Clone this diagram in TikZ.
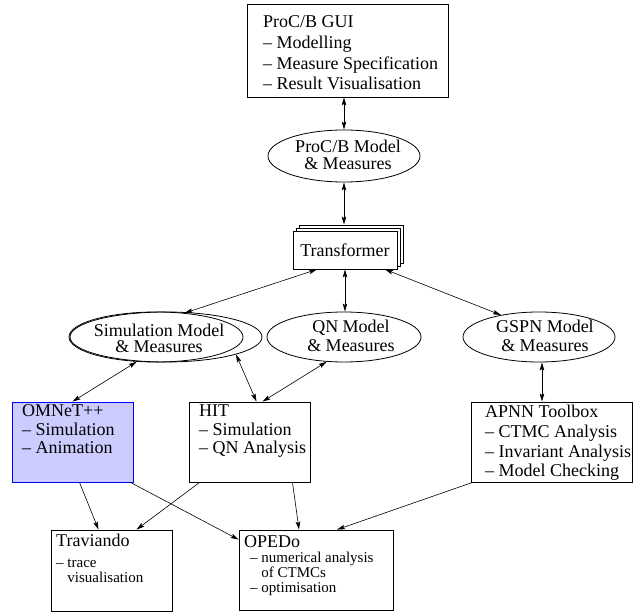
\documentclass[tikz,border=0pt]{standalone}
\usepackage{fontspec}
\setmainfont{Liberation Serif}
\usetikzlibrary{arrows.meta,shapes.geometric}
\definecolor{omfill}{RGB}{204,204,255}
\definecolor{omdraw}{RGB}{0,0,255}
\begin{document}
\begin{tikzpicture}[x=1pt,y=-1pt,
  box/.style={draw, line width=0.8pt, rectangle, inner sep=0pt},
  ell/.style={draw, line width=0.8pt, ellipse, inner sep=0pt, minimum height=50pt},
  txt/.style={anchor=base west, inner sep=0pt, align=left},
  ctxt/.style={anchor=base, inner sep=0pt, align=center},
  bigf/.style={font=\fontsize{18}{#1}\selectfont},
  smallf/.style={font=\fontsize{15}{15}\selectfont},
  tip/.tip={Stealth[length=8pt,width=4.5pt,inset=1.5pt]},
  dbl/.style={line width=0.6pt, {tip}-{tip}},
  one/.style={line width=0.6pt, -{tip}}
]
\useasboundingbox (0,0) rectangle (633,612);

% GUI (text anchors are at the baseline of the last line)
\node[box, minimum width=201pt, minimum height=93pt] (gui) at (347.5,50.5) {};
\node[txt, bigf=20.7] (guit) at (263,90) {ProC/B GUI\\– Modelling\\– Measure Specification\\– Result Visualisation};

% ProC/B model
\node[ell, minimum width=152pt, minimum height=52pt] (procb) at (344,156) {};
\node[ctxt, bigf=17] (procbt) at (348,170) {ProC/B Model\\\& Measures};

% Transformer stack
\node[box, fill=white, minimum width=104pt, minimum height=38pt] (transb2) at (351,244) {};
\node[box, fill=white, minimum width=104pt, minimum height=38pt] (transb1) at (348,247) {};
\node[box, fill=white, minimum width=104pt, minimum height=38pt, bigf=20] (trans) at (345,250) {Transformer};

% Second level ellipses
\node[ell, minimum width=192pt] (sim2) at (166,337) {};
\node[ell, minimum width=174pt] (sim) at (156,337) {};
\node[ctxt, bigf=16.5] (simt) at (159,353) {Simulation Model\\\& Measures};

\node[ell, minimum width=154pt] (qn) at (344,337) {};
\node[ctxt, bigf=18.5] (qnt) at (351,351.5) {QN Model\\\& Measures};

\node[ell, minimum width=152pt] (gspn) at (539,337) {};
\node[ctxt, bigf=18.5] (gspnt) at (545,351.5) {GSPN Model\\\& Measures};

% Tool boxes
\node[box, draw=omdraw, fill=omfill, minimum width=121pt, minimum height=80pt] (omnet) at (72.5,442) {};
\node[txt, bigf=18.3] (omnett) at (22,453.6) {OMNeT++\\– Simulation\\– Animation};

\node[box, minimum width=121pt, minimum height=80pt] (hit) at (249.5,442) {};
\node[txt, bigf=18.3] (hitt) at (199,453.6) {HIT\\– Simulation\\– QN Analysis};

\node[box, minimum width=161pt, minimum height=80pt] (apnn) at (551.5,442) {};
\node[txt, bigf=19.7] (apnnt) at (485,477) {APNN Toolbox\\– CTMC Analysis\\– Invariant Analysis\\– Model Checking};

% Bottom boxes
\node[box, minimum width=121pt, minimum height=81pt] (trav) at (111.5,570.5) {};
\node[txt, bigf=20] (travt) at (56,547) {Traviando};
\node[txt, smallf] (travs) at (56,583) {– trace\\\phantom{– }visualisation};

\node[box, minimum width=154pt, minimum height=80pt] (opedo) at (316,570) {};
\node[txt, bigf=20] (opedot) at (244,548) {OPEDo};
\node[txt, smallf] (opedos) at (250,593) {– numerical analysis\\\phantom{– }of CTMCs\\– optimisation};

% Connectors
\draw[dbl] (procb.north |- gui.south) -- (procb.north);
\draw[dbl] (procb.south) -- (procb.south |- transb2.north);
\draw[dbl] ([xshift=-28pt]trans.south) -- (sim.40);
\draw[dbl] (trans.south) -- (trans.south |- qn.north);
\draw[dbl] ([xshift=40pt]trans.south) -- (gspn.150);
\draw[dbl] ([xshift=3pt]gspn.south) -- ([xshift=3pt]gspn.south |- apnn.north);
\draw[dbl] (sim.232) -- (omnet.north);
\draw[dbl] (sim2.-14) -- ([xshift=7pt]hit.north);
\draw[dbl] (qn.235) -- ([xshift=13pt]hit.north);
\draw[one] ([xshift=7pt]omnet.south) -- ([xshift=-13pt]trav.north);
\draw[one] ([xshift=-3pt]omnet.south east) -- ([yshift=-10pt]opedo.north west);
\draw[one] ([xshift=11pt]hit.south west) -- ([xshift=25pt]trav.north);
\draw[one] ([xshift=43pt]hit.south) -- ([xshift=-17pt]opedo.north);
\draw[one] ([xshift=2pt]apnn.south west) -- ([xshift=21pt]opedo.north);
\end{tikzpicture}
\end{document}
